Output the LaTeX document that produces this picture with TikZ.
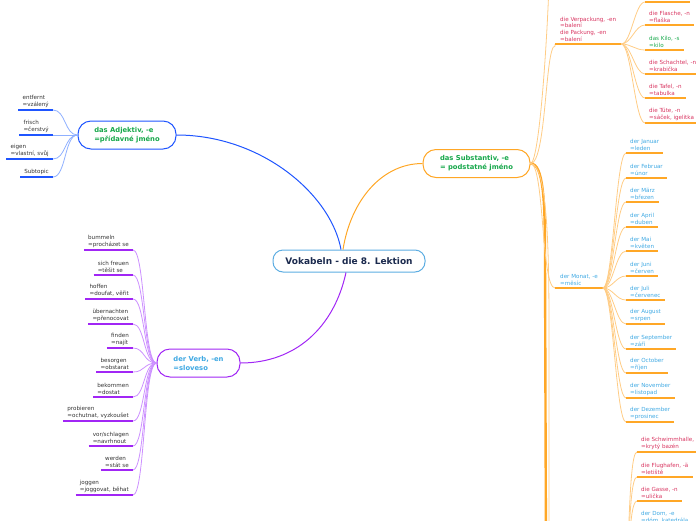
\documentclass[tikz,border=0pt]{standalone}
\usepackage{fontspec}
\setmainfont{DejaVu Sans}
\definecolor{cRootB}{HTML}{5DADE2}
\definecolor{cNavy}{HTML}{1B2A4E}
\definecolor{cBlue}{HTML}{1F55FF}
\definecolor{cBlueL}{HTML}{8FB0FF}
\definecolor{cPur}{HTML}{A126F5}
\definecolor{cPurL}{HTML}{CC90FF}
\definecolor{cOr}{HTML}{FFA726}
\definecolor{cOrL}{HTML}{FFCC85}
\definecolor{cGreen}{HTML}{17A84B}
\definecolor{cRed}{HTML}{D8335F}
\definecolor{cSky}{HTML}{3FA9E3}
\definecolor{cText}{HTML}{333333}
\tikzset{
  rootnode/.style={draw=cRootB, line width=1pt, fill=white, rounded corners=10pt,
    minimum width=152pt, minimum height=22pt, inner sep=0pt,
    font=\fontsize{9}{10}\selectfont\bfseries, text=cNavy},
  mainnode/.style={line width=1pt, fill=white, rounded corners=13pt,
    minimum height=28pt, inner sep=0pt, align=left,
    font=\fontsize{6.8}{9}\selectfont\bfseries},
  leaf/.style={font=\fontsize{5.6}{6.7}\selectfont, align=left,
    inner xsep=4pt, inner ysep=2.5pt, text=cText},
  leafL/.style={leaf, anchor=south east},
  leafR/.style={leaf, anchor=south west},
  branchR/.style={leaf, anchor=south west, inner xsep=5pt},
  ulBlue/.style={draw=cBlue, line width=1.8pt},
  ulPur/.style={draw=cPur, line width=1.8pt},
  ulOr/.style={draw=cOr, line width=1.8pt},
  ulOrB/.style={draw=cOr, line width=2.4pt},
  conBlue/.style={draw=cBlueL, line width=0.8pt},
  conPur/.style={draw=cPurL, line width=0.8pt},
  conOr/.style={draw=cOrL, line width=0.8pt},
}
\begin{document}
\begin{tikzpicture}[x=1pt,y=-1pt]
\useasboundingbox (0,0) rectangle (696,520);
\clip (0,0) rectangle (696,520);

% ---------- main nodes
\node[rootnode] (root) at (349,261) {Vokabeln - die 8. Lektion};
\node[mainnode, draw=cBlue, text=cGreen, minimum width=98pt] (adj) at (127,135) {das Adjektiv, -e\\=přídavné jméno};
\node[mainnode, draw=cPur, text=cSky, minimum width=83pt] (verb) at (198.5,363) {der Verb, -en\\=sloveso};
\node[mainnode, draw=cOr, text=cGreen, minimum width=107pt] (subst) at (476.5,163.5) {das Substantiv, -e\\= podstatné jméno};

% ---------- main connectors
\draw[draw=cBlue, line width=1pt] (adj.east) .. controls +(85,0) and +(-10,-55) .. ([xshift=-8pt]root.north);
\draw[draw=cOr, line width=1pt] ([xshift=-6pt]root.north) .. controls +(8,-50) and +(-40,0) .. (subst.west);
\draw[draw=cPur, line width=1pt] ([xshift=-3pt]root.south) .. controls +(-12,55) and +(55,0) .. (verb.east);

% ---------- adjective leaves
\node[leafL] (a1) at (53,110) {entfernt\\=vzálený};
\node[leafL] (a2) at (53,135) {frisch\\=čerstvý};
\node[leafL] (a3) at (53,159) {eigen\\=vlastní, svůj};
\node[leafL] (a4) at (53,177) {Subtopic};
\foreach \n in {a1,a2,a3,a4}{
  \draw[conBlue] (adj.west) .. controls +(-13,0) and +(13,0) .. (\n.south east);
  \draw[ulBlue] (\n.south west) -- (\n.south east);
}

% ---------- verb leaves
\node[leafL] (b1) at (133,250) {bummeln\\=procházet se};
\node[leafL] (b2) at (133,275) {sich freuen\\=těšit se};
\node[leafL] (b3) at (133,299) {hoffen\\=doufat, věřit};
\node[leafL] (b4) at (133,324) {übernachten\\=přenocovat};
\node[leafL] (b5) at (133,348) {finden\\=najít};
\node[leafL] (b6) at (133,372) {besorgen\\=obstarat};
\node[leafL] (b7) at (133,397) {bekommen\\=dostat};
\node[leafL] (b8) at (133,421) {probieren\\=ochutnat, vyzkoušet};
\node[leafL] (b9) at (133,446) {vor/schlagen\\=navrhnout};
\node[leafL] (b10) at (133,470) {werden\\=stát se};
\node[leafL] (b11) at (133,495) {joggen\\=joggovat, běhat};
\foreach \n in {b1,b2,b3,b4,b5,b6,b7,b8,b9,b10,b11}{
  \draw[conPur] (verb.west) .. controls +(-13,0) and +(12,0) .. (\n.south east);
  \draw[ulPur] (\n.south west) -- (\n.south east);
}

% ---------- noun branches
\coordinate (topbr) at (550,-60);
\coordinate (botbr) at (555,600);
\coordinate (bothub) at (622,600);
\draw[conOr] (subst.east) .. controls +(10,0) and +(0,60) .. (topbr);
\draw[ulOrB] (subst.east) .. controls +(13,0) and +(0,-60) .. (545,260) -- (546,560) .. controls +(0,30) .. (botbr);
\draw[conOr] (subst.east) .. controls +(17,0) and +(0,-80) .. (549,330) -- (549,560) .. controls +(0,30) .. (botbr);
\draw[ulOrB] (botbr) -- (bothub);

\node[branchR, text=cRed] (pack) at (555,44) {die Verpackung, -en\\=balení\\die Packung, -en\\=balení};
\draw[conOr] (subst.east) .. controls +(16,0) and +(-10,0) .. ([yshift=-2pt]pack.south west) -- (pack.south west);
\draw[ulOrB] (pack.south west) -- (pack.south east);

\node[branchR, text=cSky] (month) at (555,288) {der Monat, -e\\=měsíc};
\draw[conOr] (subst.east) .. controls +(14,0) and +(-14,0) .. (month.south west);
\draw[ulOrB] (month.south west) -- (month.south east);

% ---------- packaging leaves
\coordinate (p0a) at (645,2);
\coordinate (p0b) at (690,2);
\draw[conOr] (pack.south east) .. controls +(10,0) and +(-10,0) .. (p0a);
\draw[ulOr] (p0a) -- (p0b);
\node[leafR, text=cRed] (p1) at (645,25) {die Flasche, -n\\=flaška};
\node[leafR, text=cGreen] (p2) at (645,50) {das Kilo, -s\\=kilo};
\node[leafR, text=cRed] (p3) at (645,74) {die Schachtel, -n\\=krabička};
\node[leafR, text=cRed] (p4) at (645,98) {die Tafel, -n\\=tabulka};
\node[leafR, text=cRed] (p5) at (645,123) {die Tüte, -n\\=sáček, igelitka};
\foreach \n in {p1,p2,p3,p4,p5}{
  \draw[conOr] (pack.south east) .. controls +(10,0) and +(-10,0) .. (\n.south west);
  \draw[ulOr] (\n.south west) -- (\n.south east);
}

% ---------- months
\node[leafR, text=cSky] (m1) at (626,153) {der Januar\\=leden};
\node[leafR, text=cSky] (m2) at (626,178) {der Februar\\=únor};
\node[leafR, text=cSky] (m3) at (626,202) {der März\\=březen};
\node[leafR, text=cSky] (m4) at (626,227) {der April\\=duben};
\node[leafR, text=cSky] (m5) at (626,251) {der Mai\\=květen};
\node[leafR, text=cSky] (m6) at (626,276) {der Juni\\=červen};
\node[leafR, text=cSky] (m7) at (626,300) {der Juli\\=červenec};
\node[leafR, text=cSky] (m8) at (626,324) {der August\\=srpen};
\node[leafR, text=cSky] (m9) at (626,349) {der September\\=září};
\node[leafR, text=cSky] (m10) at (626,373) {der October\\=říjen};
\node[leafR, text=cSky] (m11) at (626,398) {der November\\=listopad};
\node[leafR, text=cSky] (m12) at (626,422) {der Dezember\\=prosinec};
\foreach \n in {m1,m2,m3,m4,m5,m6,m7,m8,m9,m10,m11,m12}{
  \draw[conOr] (month.south east) .. controls +(10,0) and +(-10,0) .. (\n.south west);
  \draw[ulOr] (\n.south west) -- (\n.south east);
}

% ---------- bottom leaves
\node[leafR, text=cRed] (s1) at (637,452) {die Schwimmhalle, -n\\=krytý bazén};
\node[leafR, text=cRed] (s2) at (637,477) {die Flughafen, -ä\\=letiště};
\node[leafR, text=cRed] (s3) at (637,501) {die Gasse, -n\\=ulička};
\node[leafR, text=cSky] (s4) at (637,526) {der Dom, -e\\=dóm, katedrála};
\foreach \n in {s1,s2,s3,s4}{
  \draw[conOr] (bothub) .. controls +(8,0) and +(-10,0) .. (\n.south west);
  \draw[ulOr] (\n.south west) -- (\n.south east);
}
\end{tikzpicture}
\end{document}
